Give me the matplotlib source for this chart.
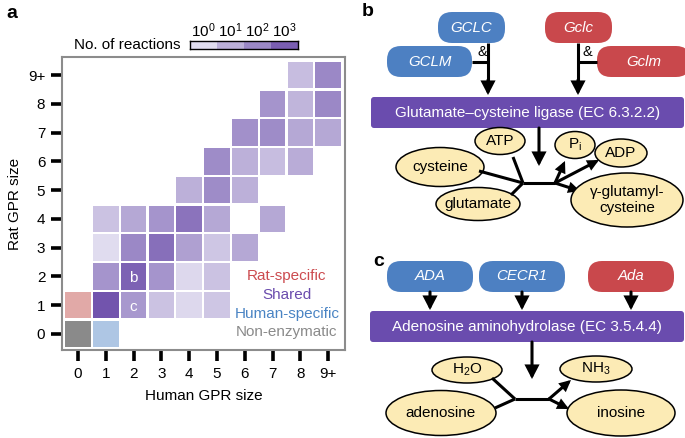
import matplotlib
matplotlib.use("Agg")
import matplotlib.pyplot as plt
from matplotlib.patches import Rectangle, FancyBboxPatch, Ellipse, FancyArrowPatch
from matplotlib.colors import LinearSegmentedColormap, Normalize

plt.rcParams['font.family'] = ['Liberation Sans', 'DejaVu Sans']
plt.rcParams['mathtext.default'] = 'regular'

# ---------------- data ----------------
tick_labels = ['0', '1', '2', '3', '4', '5', '6', '7', '8', '9+']
# shared reactions: human GPR size, rat GPR size, log10(number of reactions)
shared_human = [8, 9, 7, 8, 9, 6, 7, 8, 9, 5, 6, 7, 8, 4, 5, 6,
                1, 2, 3, 4, 5, 7, 1, 2, 3, 4, 5, 6, 1, 2, 3, 4, 5, 1, 2, 3, 4, 5]
shared_rat = [9, 9, 8, 8, 8, 7, 7, 7, 7, 6, 6, 6, 6, 5, 5, 5,
              4, 4, 4, 4, 4, 4, 3, 3, 3, 3, 3, 3, 2, 2, 2, 2, 2, 1, 1, 1, 1, 1]
shared_log = [0.7, 2.0, 1.7, 0.9, 2.0, 1.8, 1.9, 1.2, 1.2, 1.9, 1.0, 0.7, 1.1, 1.0, 1.9, 1.0,
              0.6, 1.2, 1.7, 2.5, 1.2, 1.2, 0.0, 2.0, 2.6, 1.4, 0.5, 1.2,
              1.7, 2.9, 1.7, 0.1, 0.6, 3.2, 1.6, 0.6, 0.1, 0.5]
special_human = [0, 0, 1]
special_rat = [1, 0, 0]
special_names = ['Rat-specific', 'Non-enzymatic', 'Human-specific']
special_colors = ['#e1a9a7', '#8a8a8a', '#aec6e4']
legend_names = ['Rat-specific', 'Shared', 'Human-specific', 'Non-enzymatic']
legend_colors = ['#cc4b4f', '#6a4cad', '#4a84c4', '#8a8a8a']
cbar_levels = [0, 1, 2, 3]
cell_labels = {(2, 2): 'b', (2, 1): 'c'}

cmap = LinearSegmentedColormap.from_list(
    'purp', [(0, '#e0dcef'), (1 / 3.3, '#bcb0d9'), (2 / 3.3, '#9b88c6'),
             (3 / 3.3, '#7a5eb2'), (1.0, '#6f50ab')])
norm = Normalize(0, 3.3)

fig = plt.figure(figsize=(6.85, 4.38), dpi=100)

# ---------------- panel a ----------------
ax = fig.add_axes([62 / 685, 1 - 350 / 438, 283 / 685, 293 / 438])
s = 0.92
for h, r, v in zip(shared_human, shared_rat, shared_log):
    ax.add_patch(Rectangle((h - s / 2, r - s / 2), s, s, facecolor=cmap(norm(v)),
                           edgecolor='none'))
for h, r, c in zip(special_human, special_rat, special_colors):
    ax.add_patch(Rectangle((h - s / 2, r - s / 2), s, s, facecolor=c, edgecolor='none'))
for (h, r), t in cell_labels.items():
    ax.text(h, r - 0.05, t, color='white', ha='center', va='center', fontsize=11)
legend_y = [2.0, 1.35, 0.7, 0.05]
for name, col, yy in zip(legend_names, legend_colors, legend_y):
    ax.text(7.52, yy, name, color=col, ha='center', va='center', fontsize=11)

ax.set_xlim(-0.58, 9.61)
ax.set_ylim(-0.56, 9.63)
ax.set_xticks(range(10))
ax.set_yticks(range(10))
ax.set_xticklabels(tick_labels, fontsize=11)
ax.set_yticklabels(tick_labels, fontsize=11)
ax.tick_params(length=8, width=2.6, color='black', pad=4)
for sp in ax.spines.values():
    sp.set_color('#8c8c8c')
    sp.set_linewidth(1.5)
ax.set_xlabel('Human GPR size', fontsize=11, labelpad=6)
ax.set_ylabel('Rat GPR size', fontsize=11, labelpad=4)

# colorbar
cax = fig.add_axes([190 / 685, 1 - 49 / 438, 108 / 685, 8 / 438])
for i, lv in enumerate(cbar_levels):
    cax.add_patch(Rectangle((i, 0), 1, 1, facecolor=cmap(norm(lv)), edgecolor='none'))
cax.set_xlim(0, 4)
cax.set_ylim(0, 1)
cax.set_yticks([])
cax.xaxis.tick_top()
cax.set_xticks([i + 0.5 for i in range(4)])
cax.set_xticklabels(['$10^{%d}$' % lv for lv in cbar_levels], fontsize=11)
cax.tick_params(axis='x', length=0, pad=1)
for sp in cax.spines.values():
    sp.set_linewidth(1.0)
fig.text(180 / 685, 1 - 45 / 438, 'No. of reactions', ha='right', va='center', fontsize=11)

# ---------------- panels b and c (diagram) ----------------
d = fig.add_axes([0, 0, 1, 1], zorder=-1)
d.set_xlim(0, 685)
d.set_ylim(438, 0)
d.axis('off')

BLUE = '#4d80c2'
RED = '#c9484c'
PURPLE = '#6a4cae'
CREAM = '#fcebb5'


def gene(x0, x1, y0, y1, text, color):
    d.add_patch(FancyBboxPatch((x0, y0), x1 - x0, y1 - y0,
                               boxstyle='round,pad=0,rounding_size=14',
                               facecolor=color, edgecolor='none'))
    d.text((x0 + x1) / 2, (y0 + y1) / 2, text, color='white', style='italic',
           ha='center', va='center', fontsize=10.8)


def enzyme(x0, x1, y0, y1, text):
    d.add_patch(FancyBboxPatch((x0, y0), x1 - x0, y1 - y0,
                               boxstyle='round,pad=0,rounding_size=3',
                               facecolor=PURPLE, edgecolor='none'))
    d.text((x0 + x1) / 2, (y0 + y1) / 2 + 1, text, color='white',
           ha='center', va='center', fontsize=11)


def metab(cx, cy, w, h, text):
    d.add_patch(Ellipse((cx, cy), w, h, facecolor=CREAM, edgecolor='black', lw=1.1))
    d.text(cx, cy, text, ha='center', va='center', fontsize=11, linespacing=1.1)


def arrow(x0, y0, x1, y1, big=True):
    if big:
        st = '-|>,head_length=0.5,head_width=0.26'
        ms = 14
    else:
        st = '-|>,head_length=0.45,head_width=0.22'
        ms = 11
    d.add_patch(FancyArrowPatch((x0, y0), (x1, y1), arrowstyle=st, mutation_scale=ms,
                                color='black', lw=2.2, shrinkA=0, shrinkB=0,
                                joinstyle='miter'))


def line(xs, ys):
    d.plot(xs, ys, color='black', lw=2.2, solid_capstyle='butt')


# panel labels
fig.text(12 / 685, 1 - 13 / 438, 'a', fontsize=14, fontweight='bold', ha='center', va='center')
d.text(368, 12, 'b', fontsize=14, fontweight='bold', ha='center', va='center')
d.text(379, 262, 'c', fontsize=14, fontweight='bold', ha='center', va='center')

# panel b
line([488, 488], [43, 85])
line([472, 488], [62, 62])
d.text(482, 52, '&', ha='center', va='center', fontsize=10.5)
line([578, 578], [43, 85])
line([578, 597], [62, 62])
d.text(587, 52, '&', ha='center', va='center', fontsize=10.5)
gene(438, 505, 12, 43, 'GCLC', BLUE)
gene(387, 472, 46, 77, 'GCLM', BLUE)
gene(545, 612, 12, 43, 'Gclc', RED)
gene(597, 690, 46, 77, 'Gclm', RED)
arrow(488, 80, 488, 95)
arrow(578, 80, 578, 95)
enzyme(371, 684, 97, 128, 'Glutamate\u2013cysteine ligase (EC 6.3.2.2)')
arrow(539, 128, 539, 166)
line([479, 523], [171, 183])
line([513, 523], [157, 183])
line([511, 523], [195, 183])
line([523, 555], [183, 183])
arrow(555, 183, 565, 161, big=False)
arrow(555, 183, 599, 160, big=False)
arrow(555, 183, 580, 191, big=False)
metab(440, 167, 88, 39, 'cysteine')
metab(500, 141, 50, 27, 'ATP')
metab(478, 204, 84, 33, 'glutamate')
metab(575, 145, 40, 27, '$P_i$')
metab(621, 153, 52, 28, 'ADP')
metab(627, 200, 112, 54, '\u03b3-glutamyl-\ncysteine')

# panel c
gene(387, 473, 261, 292, 'ADA', BLUE)
gene(479, 565, 261, 292, 'CECR1', BLUE)
gene(588, 674, 261, 292, 'Ada', RED)
for gx in [430, 522, 631]:
    arrow(gx, 292, gx, 310)
enzyme(370, 684, 311, 342, 'Adenosine aminohydrolase (EC 3.5.4.4)')
arrow(532, 342, 532, 379)
line([492, 515], [378, 399])
line([495, 515], [408, 399])
line([515, 549], [399, 399])
arrow(549, 399, 571, 380, big=False)
arrow(549, 399, 569, 409, big=False)
metab(467, 370, 70, 26, 'H$_2$O')
metab(441, 413, 110, 45, 'adenosine')
metab(596, 369, 72, 26, 'NH$_3$')
metab(621, 413, 108, 46, 'inosine')

fig.savefig('out.png', dpi=100)
